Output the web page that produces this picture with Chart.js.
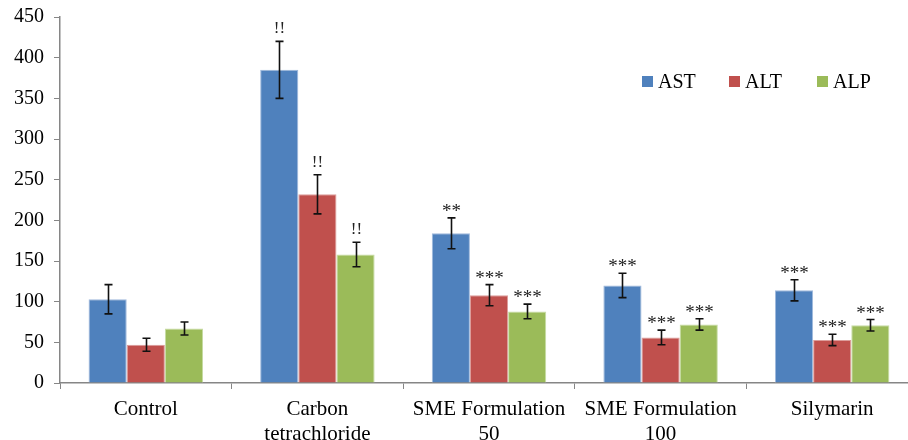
<!DOCTYPE html>
<html>
<head>
<meta charset="utf-8">
<script src="https://cdn.jsdelivr.net/npm/chart.js@4"></script>
<style>
  html, body { margin: 0; padding: 0; background: #fff; }
  #wrap { position: relative; width: 908px; height: 440px; overflow: hidden; }
  #legend { position: absolute; top: 70px; left: 642px; font: 20px "Liberation Serif", serif; color: #000; }
  #legend span.item { position: absolute; white-space: nowrap; }
  #legend i { display: inline-block; width: 11px; height: 11px; margin-right: 5px; vertical-align: 1px; }
</style>
</head>
<body>
<div id="wrap">
  <canvas id="chart" width="920" height="440"></canvas>
  <div id="legend"></div>
</div>
<script>
const categories = [["Control"], ["Carbon", "tetrachloride"], ["SME Formulation", "50"], ["SME Formulation", "100"], ["Silymarin"]];
const seriesNames = ["AST", "ALT", "ALP"];
const colors = ["#4F81BD", "#C0504D", "#9BBB59"];
const borders = ["#9fb9dc", "#dc9c9a", "#c7dca4"];

const astValues = [103, 385, 184, 120, 114];
const altValues = [47, 232, 108, 56, 53];
const alpValues = [67, 158, 88, 72, 71];

const astErrors = [18, 35, 19, 15, 13];
const altErrors = [8, 24, 13, 9, 7];
const alpErrors = [8, 15, 9, 7, 7];

const astMarks = ["", "!!", "**", "***", "***"];
const altMarks = ["", "!!", "***", "***", "***"];
const alpMarks = ["", "!!", "***", "***", "***"];

const yTicks = [0, 50, 100, 150, 200, 250, 300, 350, 400, 450];

const values = [astValues, altValues, alpValues];
const errors = [astErrors, altErrors, alpErrors];
const marks = [astMarks, altMarks, alpMarks];

const serif = "'Liberation Serif', 'Times New Roman', serif";

// error bars and significance marks, placed through the scales
const errorBars = {
  id: "errorBars",
  afterDatasetsDraw(chart) {
    const ctx = chart.ctx;
    const y = chart.scales.y;
    ctx.save();
    chart.data.datasets.forEach((ds, i) => {
      chart.getDatasetMeta(i).data.forEach((bar, j) => {
        const v = ds.data[j];
        const e = errors[i][j];
        const top = y.getPixelForValue(v + e);
        const bot = y.getPixelForValue(v - e);
        const x = Math.round(bar.x) + 0.5;
        ctx.strokeStyle = "#111";
        ctx.lineWidth = 1.6;
        ctx.beginPath();
        ctx.moveTo(x, top); ctx.lineTo(x, bot);
        ctx.moveTo(x - 4, top); ctx.lineTo(x + 4, top);
        ctx.moveTo(x - 4, bot); ctx.lineTo(x + 4, bot);
        ctx.stroke();
        const m = marks[i][j];
        if (m) {
          ctx.fillStyle = "#222";
          ctx.textAlign = "center";
          ctx.textBaseline = "alphabetic";
          if (m.startsWith("*")) {
            ctx.font = "19px " + serif;
            ctx.fillText(m, x, top - 1);
          } else {
            ctx.font = "17px " + serif;
            ctx.fillText(m, x, top - 8);
          }
        }
      });
    });
    ctx.restore();
  }
};

new Chart(document.getElementById("chart"), {
  type: "bar",
  data: {
    labels: categories,
    datasets: seriesNames.map((name, i) => ({
      label: name,
      data: values[i],
      backgroundColor: colors[i],
      borderColor: borders[i],
      borderWidth: 1,
      categoryPercentage: 0.667,
      barPercentage: 1.0,
    })),
  },
  options: {
    responsive: false,
    animation: false,
    layout: { padding: { top: 0, right: 2, left: 0, bottom: 0 } },
    plugins: { legend: { display: false }, tooltip: { enabled: false } },
    scales: {
      x: {
        grid: { display: true, drawOnChartArea: false, offset: true, color: "#868686", tickLength: 6 },
        border: { color: "#868686", width: 1.5 },
        ticks: { color: "#000", font: { family: serif, size: 21 }, padding: 8, maxRotation: 0, autoSkip: false },
        afterFit(scale) { scale.height = 57; },
      },
      y: {
        min: 0,
        max: 450,
        afterBuildTicks(scale) { scale.ticks = yTicks.map((v) => ({ value: v })); },
        grid: { display: true, drawOnChartArea: false, color: "#868686", tickLength: 6 },
        border: { color: "#868686", width: 1.5 },
        ticks: { color: "#000", font: { family: serif, size: 20 }, padding: 10 },
        afterFit(scale) { scale.width = 60; scale.paddingTop = 17; },
      },
    },
  },
  plugins: [errorBars],
});

const legend = document.getElementById("legend");
const offsets = [0, 87, 175];
seriesNames.forEach((name, i) => {
  const s = document.createElement("span");
  s.className = "item";
  s.style.left = offsets[i] + "px";
  s.innerHTML = `<i style="background:${colors[i]}"></i>${name}`;
  legend.appendChild(s);
});
</script>
</body>
</html>
